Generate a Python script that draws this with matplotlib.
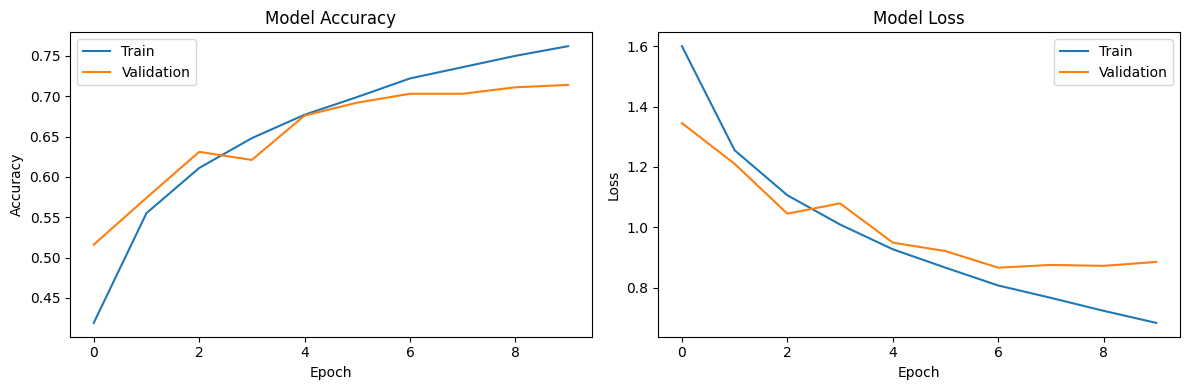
import matplotlib
matplotlib.use("Agg")
import matplotlib.pyplot as plt

epochs = list(range(10))

train_acc = [0.419, 0.555, 0.611, 0.648, 0.677, 0.699, 0.722, 0.736, 0.750, 0.762]
val_acc = [0.516, 0.574, 0.631, 0.621, 0.676, 0.692, 0.703, 0.703, 0.711, 0.714]

train_loss = [1.600, 1.255, 1.106, 1.009, 0.927, 0.866, 0.807, 0.766, 0.723, 0.683]
val_loss = [1.345, 1.210, 1.045, 1.079, 0.949, 0.921, 0.866, 0.875, 0.872, 0.885]

fig, (ax1, ax2) = plt.subplots(1, 2, figsize=(12, 4), dpi=100)

ax1.plot(epochs, train_acc, label='Train')
ax1.plot(epochs, val_acc, label='Validation')
ax1.set_title('Model Accuracy')
ax1.set_xlabel('Epoch')
ax1.set_ylabel('Accuracy')
ax1.legend()

ax2.plot(epochs, train_loss, label='Train')
ax2.plot(epochs, val_loss, label='Validation')
ax2.set_title('Model Loss')
ax2.set_xlabel('Epoch')
ax2.set_ylabel('Loss')
ax2.legend()

plt.tight_layout()
fig.savefig('out.png', dpi=100, bbox_inches='tight')
plt.close(fig)
